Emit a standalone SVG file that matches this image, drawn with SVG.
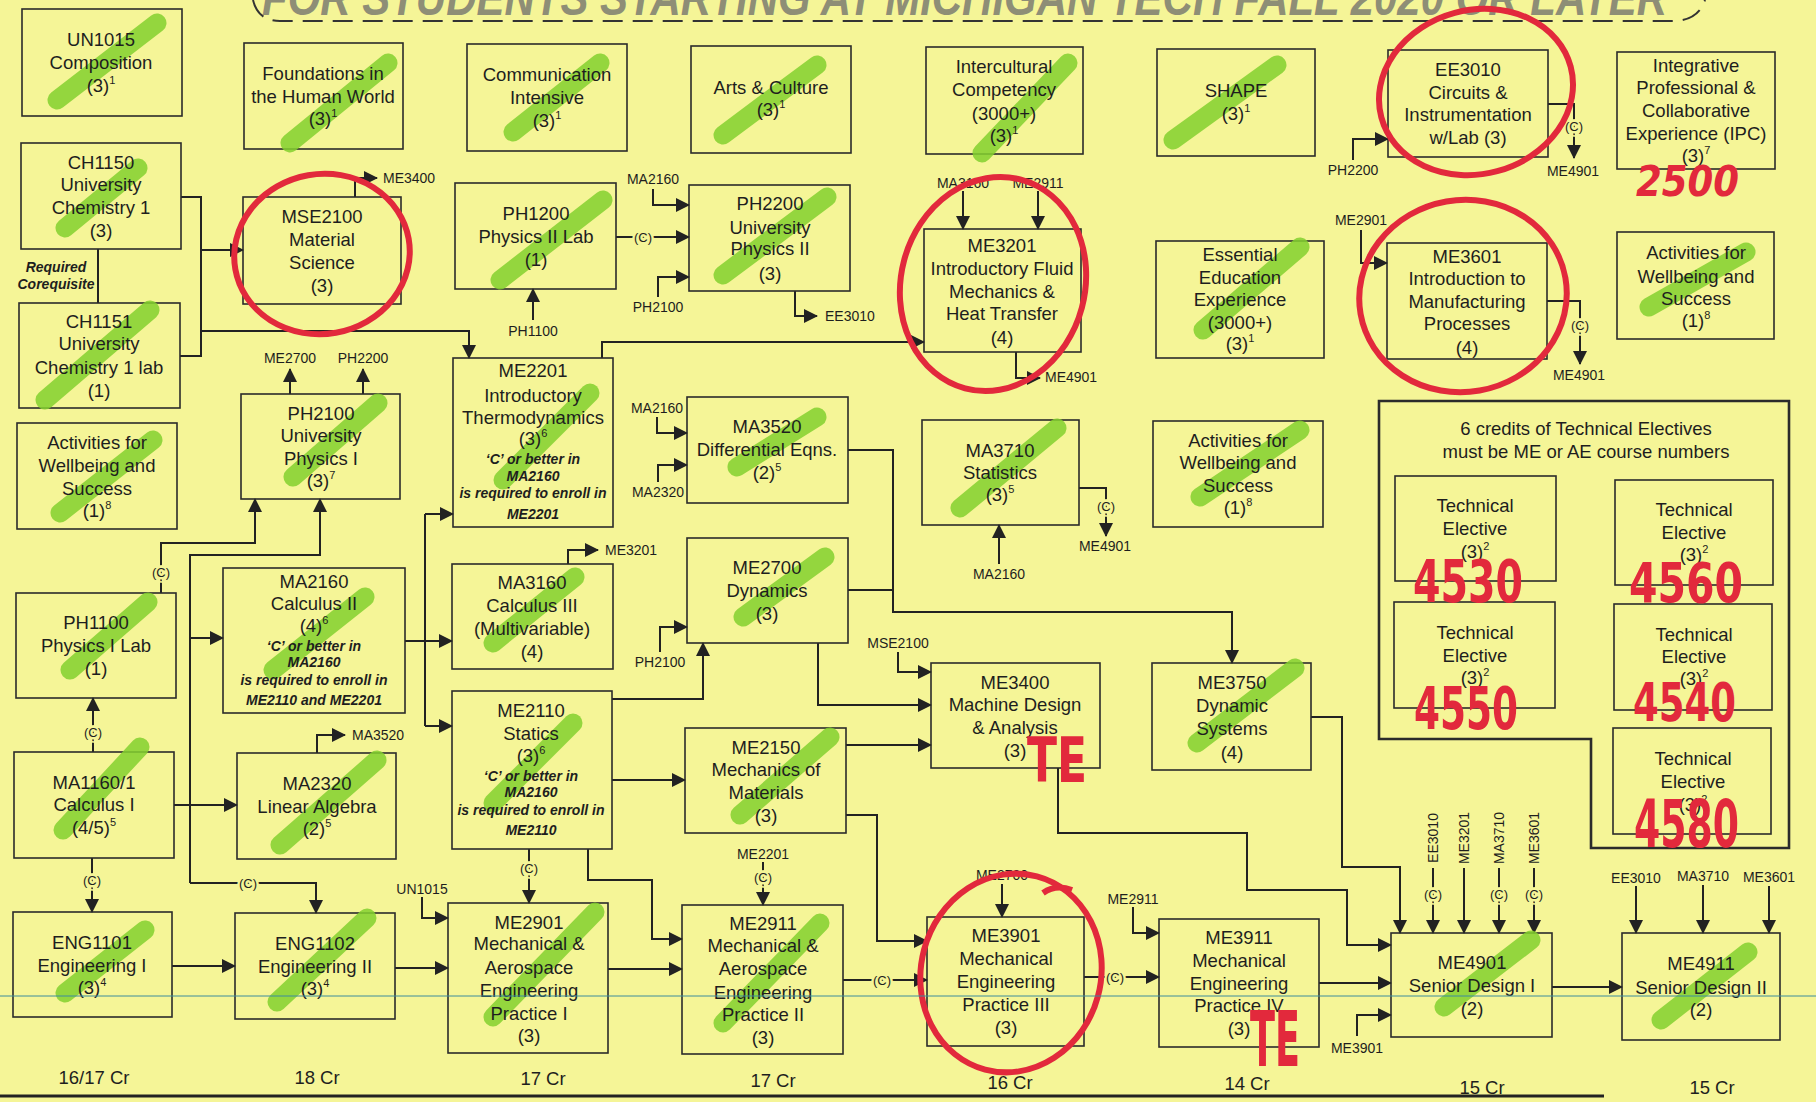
<svg xmlns="http://www.w3.org/2000/svg" width="1816" height="1102" viewBox="0 0 1816 1102">
<style>
.bx{fill:none;stroke:#2b2b2b;stroke-width:1.6}
.t{font-family:"Liberation Sans",Arial,sans-serif;font-size:18.5px;fill:#1e1e1e;text-anchor:middle}
.it{font-family:"Liberation Sans",Arial,sans-serif;font-size:14px;font-weight:bold;font-style:italic;fill:#1e1e1e;text-anchor:middle}
.s{font-family:"Liberation Sans",Arial,sans-serif;font-size:14px;fill:#1e1e1e;text-anchor:middle}
.c{font-family:"Liberation Sans",Arial,sans-serif;font-size:13px;fill:#1e1e1e;text-anchor:middle;stroke:#f5f597;stroke-width:5px;paint-order:stroke}
.ln{fill:none;stroke:#222;stroke-width:2}
.a{marker-end:url(#ah)}
.hl{stroke:#84d12f;stroke-width:19;stroke-linecap:round;opacity:.85}
.rc{fill:none;stroke:#e2293c;stroke-width:6}
.rt{fill:#e2293c;font-family:"DejaVu Sans Condensed","DejaVu Sans",sans-serif;font-weight:bold}
.cr{font-family:"Liberation Sans",Arial,sans-serif;font-size:18.5px;fill:#1e1e1e;text-anchor:middle}
</style>
<defs>
<marker id="ah" viewBox="0 0 14 14" refX="13" refY="7" markerWidth="14" markerHeight="14" markerUnits="userSpaceOnUse" orient="auto"><path d="M0,0 L14,7 L0,14 z" fill="#222"/></marker>
</defs>
<rect x="0" y="0" width="1816" height="1102" fill="#f5f597"/>

<g id="title">
<text x="262" y="15" font-family="Liberation Sans,Arial,sans-serif" font-size="50" font-weight="bold" font-style="italic" fill="#8e8e76" textLength="1405" lengthAdjust="spacingAndGlyphs">FOR STUDENTS STARTING AT MICHIGAN TECH FALL 2020 OR LATER</text>
<path d="M253,0 Q258,21 280,21 L1672,21 Q1698,21 1705,0" fill="none" stroke="#333" stroke-width="2" stroke-dasharray="20 10"/>
</g>

<g id="connectors">
<polyline class="ln" points="181,197 201,197 201,356 180,356"/>
<polyline class="ln a" points="201,250 243,250"/>
<polyline class="ln a" points="201,331 469,331 469,358"/>
<polyline class="ln" points="98,249 98,303"/>
<polyline class="ln a" points="355,197 355,178 377,178"/>
<polyline class="ln a" points="290,394 290,369"/>
<polyline class="ln a" points="363,394 363,369"/>
<polyline class="ln a" points="533,320 533,289"/>
<polyline class="ln a" points="653,189 653,205 689,205"/>
<polyline class="ln a" points="616,237 689,237"/>
<polyline class="ln a" points="658,297 658,277 689,277"/>
<polyline class="ln a" points="795,291 795,316 817,316"/>
<polyline class="ln a" points="602,358 602,342 924,342"/>
<polyline class="ln a" points="963,191 963,229"/>
<polyline class="ln a" points="1038,191 1038,229"/>
<polyline class="ln a" points="1016,352 1016,378 1040,378"/>
<polyline class="ln a" points="1353,160 1353,139 1388,139"/>
<polyline class="ln a" points="1548,104 1574,104 1574,158"/>
<polyline class="ln a" points="1361,230 1361,263 1387,263"/>
<polyline class="ln a" points="1547,301 1580,301 1580,364"/>
<polyline class="ln a" points="161,593 161,543 255,543 255,499"/>
<polyline class="ln a" points="190,883 190,555 320,555 320,499"/>
<polyline class="ln a" points="190,638 223,638"/>
<polyline class="ln a" points="190,883 316,883 316,913"/>
<polyline class="ln" points="405,641 425,641"/>
<polyline class="ln" points="425,514 425,726"/>
<polyline class="ln a" points="425,514 453,514"/>
<polyline class="ln a" points="425,641 452,641"/>
<polyline class="ln a" points="425,726 452,726"/>
<polyline class="ln a" points="568,564 568,550 598,550"/>
<polyline class="ln a" points="657,417 657,433 687,433"/>
<polyline class="ln a" points="658,482 658,465 687,465"/>
<polyline class="ln a" points="848,450 893,450 893,612 1232,612 1232,663"/>
<polyline class="ln" points="848,590 893,590"/>
<polyline class="ln a" points="660,652 660,627 687,627"/>
<polyline class="ln a" points="612,699 703,699 703,643"/>
<polyline class="ln a" points="818,643 818,705 931,705"/>
<polyline class="ln a" points="898,652 898,672 931,672"/>
<polyline class="ln a" points="846,745 931,745"/>
<polyline class="ln a" points="612,780 685,780"/>
<polyline class="ln a" points="846,815 877,815 877,941 927,941"/>
<polyline class="ln a" points="999,564 999,525"/>
<polyline class="ln a" points="1079,488 1106,488 1106,536"/>
<polyline class="ln a" points="174,805 237,805"/>
<polyline class="ln a" points="93,752 93,698"/>
<polyline class="ln a" points="92,858 92,912"/>
<polyline class="ln a" points="317,753 317,735 345,735"/>
<polyline class="ln a" points="172,966 235,966"/>
<polyline class="ln a" points="395,968 448,968"/>
<polyline class="ln a" points="422,897 422,918 448,918"/>
<polyline class="ln a" points="529,849 529,903"/>
<polyline class="ln a" points="588,849 588,880 652,880 652,939 682,939"/>
<polyline class="ln a" points="608,969 682,969"/>
<polyline class="ln a" points="763,862 763,905"/>
<polyline class="ln a" points="843,980 927,980"/>
<polyline class="ln a" points="1002,884 1002,917"/>
<polyline class="ln a" points="1084,977 1159,977"/>
<polyline class="ln a" points="1133,907 1133,933 1159,933"/>
<polyline class="ln a" points="1058,768 1058,833 1247,833 1247,890 1347,890 1347,945 1391,945"/>
<polyline class="ln a" points="1311,717 1342,717 1342,867 1400,867 1400,933"/>
<polyline class="ln a" points="1319,983 1391,983"/>
<polyline class="ln a" points="1357,1036 1357,1015 1391,1015"/>
<polyline class="ln a" points="1433,868 1433,933"/>
<polyline class="ln a" points="1464,868 1464,933"/>
<polyline class="ln a" points="1499,868 1499,933"/>
<polyline class="ln a" points="1534,868 1534,933"/>
<polyline class="ln a" points="1552,987 1622,987"/>
<polyline class="ln a" points="1636,886 1636,933"/>
<polyline class="ln a" points="1703,885 1703,933"/>
<polyline class="ln a" points="1769,886 1769,933"/>
<text class="c" x="643" y="242">(C)</text>
<text class="c" x="1574" y="131">(C)</text>
<text class="c" x="1580" y="330">(C)</text>
<text class="c" x="1106" y="511">(C)</text>
<text class="c" x="161" y="577">(C)</text>
<text class="c" x="93" y="737">(C)</text>
<text class="c" x="92" y="885">(C)</text>
<text class="c" x="248" y="888">(C)</text>
<text class="c" x="529" y="873">(C)</text>
<text class="c" x="763" y="882">(C)</text>
<text class="c" x="882" y="985">(C)</text>
<text class="c" x="1115" y="982">(C)</text>
<text class="c" x="1433" y="899">(C)</text>
<text class="c" x="1499" y="899">(C)</text>
<text class="c" x="1534" y="899">(C)</text>
</g>

<g id="labels">
<text class="s" x="383" y="183" text-anchor="start" style="text-anchor:start">ME3400</text>
<text class="s" x="290" y="363">ME2700</text>
<text class="s" x="363" y="363">PH2200</text>
<text class="s" x="653" y="184">MA2160</text>
<text class="s" x="658" y="312">PH2100</text>
<text class="s" x="825" y="321" style="text-anchor:start">EE3010</text>
<text class="s" x="533" y="336">PH1100</text>
<text class="s" x="963" y="188">MA3160</text>
<text class="s" x="1038" y="188">ME2911</text>
<text class="s" x="1045" y="382" style="text-anchor:start">ME4901</text>
<text class="s" x="1353" y="175">PH2200</text>
<text class="s" x="1573" y="176">ME4901</text>
<text class="s" x="1361" y="225">ME2901</text>
<text class="s" x="1579" y="380">ME4901</text>
<text class="s" x="657" y="413">MA2160</text>
<text class="s" x="658" y="497">MA2320</text>
<text class="s" x="605" y="555" style="text-anchor:start">ME3201</text>
<text class="s" x="660" y="667">PH2100</text>
<text class="s" x="898" y="648">MSE2100</text>
<text class="s" x="999" y="579">MA2160</text>
<text class="s" x="1105" y="551">ME4901</text>
<text class="s" x="352" y="740" style="text-anchor:start">MA3520</text>
<text class="s" x="422" y="894">UN1015</text>
<text class="s" x="763" y="859">ME2201</text>
<text class="s" x="1002" y="880">ME2700</text>
<text class="s" x="1133" y="904">ME2911</text>
<text class="s" x="1357" y="1053">ME3901</text>
<text class="s" x="1636" y="883">EE3010</text>
<text class="s" x="1703" y="881">MA3710</text>
<text class="s" x="1769" y="882">ME3601</text>
<text class="s" transform="translate(1438,838) rotate(-90)" x="0" y="0">EE3010</text>
<text class="s" transform="translate(1469,838) rotate(-90)" x="0" y="0">ME3201</text>
<text class="s" transform="translate(1504,838) rotate(-90)" x="0" y="0">MA3710</text>
<text class="s" transform="translate(1539,838) rotate(-90)" x="0" y="0">ME3601</text>
<text class="it" x="56" y="272">Required</text>
<text class="it" x="56" y="289">Corequisite</text>
<text class="cr" x="94" y="1084">16/17 Cr</text>
<text class="cr" x="317" y="1084">18 Cr</text>
<text class="cr" x="543" y="1085">17 Cr</text>
<text class="cr" x="773" y="1087">17 Cr</text>
<text class="cr" x="1010" y="1089">16 Cr</text>
<text class="cr" x="1247" y="1090">14 Cr</text>
<text class="cr" x="1482" y="1094">15 Cr</text>
<text class="cr" x="1712" y="1094">15 Cr</text>
</g>

<g id="un1015"><rect class="bx" x="22" y="9" width="160" height="107"/><line class="hl" x1="57" y1="100" x2="157" y2="23"/><text class="t"><tspan x="101" y="46">UN1015</tspan><tspan x="101" y="69">Composition</tspan><tspan x="101" y="92">(3)<tspan dy="-8" font-size="11">1</tspan></tspan></text></g>
<g id="foundations"><rect class="bx" x="244" y="43" width="159" height="106"/><line class="hl" x1="290" y1="143" x2="388" y2="63"/><text class="t"><tspan x="323" y="80">Foundations in</tspan><tspan x="323" y="103">the Human World</tspan><tspan x="323" y="125">(3)<tspan dy="-8" font-size="11">1</tspan></tspan></text></g>
<g id="communication"><rect class="bx" x="467" y="44" width="160" height="107"/><line class="hl" x1="513" y1="132" x2="600" y2="63"/><text class="t"><tspan x="547" y="81">Communication</tspan><tspan x="547" y="104">Intensive</tspan><tspan x="547" y="127">(3)<tspan dy="-8" font-size="11">1</tspan></tspan></text></g>
<g id="arts"><rect class="bx" x="691" y="46" width="160" height="107"/><line class="hl" x1="723" y1="135" x2="817" y2="65"/><text class="t"><tspan x="771" y="94">Arts &amp; Culture</tspan><tspan x="771" y="116">(3)<tspan dy="-8" font-size="11">1</tspan></tspan></text></g>
<g id="intercultural"><rect class="bx" x="926" y="47" width="157" height="107"/><line class="hl" x1="982" y1="153" x2="1068" y2="63"/><text class="t"><tspan x="1004" y="73">Intercultural</tspan><tspan x="1004" y="96">Competency</tspan><tspan x="1004" y="120">(3000+)</tspan><tspan x="1004" y="142">(3)<tspan dy="-8" font-size="11">1</tspan></tspan></text></g>
<g id="shape"><rect class="bx" x="1157" y="49" width="158" height="107"/><line class="hl" x1="1173" y1="140" x2="1277" y2="65"/><text class="t"><tspan x="1236" y="97">SHAPE</tspan><tspan x="1236" y="120">(3)<tspan dy="-8" font-size="11">1</tspan></tspan></text></g>
<g id="ee3010"><rect class="bx" x="1388" y="50" width="160" height="107"/><text class="t"><tspan x="1468" y="76">EE3010</tspan><tspan x="1468" y="99">Circuits &amp;</tspan><tspan x="1468" y="121">Instrumentation</tspan><tspan x="1468" y="144">w/Lab (3)</tspan></text></g>
<g id="ipc"><rect class="bx" x="1617" y="52" width="158" height="117"/><text class="t"><tspan x="1696" y="72">Integrative</tspan><tspan x="1696" y="94">Professional &amp;</tspan><tspan x="1696" y="117">Collaborative</tspan><tspan x="1696" y="140">Experience (IPC)</tspan><tspan x="1696" y="162">(3)<tspan dy="-8" font-size="11">7</tspan></tspan></text></g>
<g id="ch1150"><rect class="bx" x="21" y="143" width="160" height="106"/><line class="hl" x1="65" y1="228" x2="138" y2="168"/><text class="t"><tspan x="101" y="169">CH1150</tspan><tspan x="101" y="191">University</tspan><tspan x="101" y="214">Chemistry 1</tspan><tspan x="101" y="237">(3)</tspan></text></g>
<g id="mse2100"><rect class="bx" x="243" y="197" width="158" height="107"/><text class="t"><tspan x="322" y="223">MSE2100</tspan><tspan x="322" y="246">Material</tspan><tspan x="322" y="269">Science</tspan><tspan x="322" y="292">(3)</tspan></text></g>
<g id="ph1200"><rect class="bx" x="455" y="183" width="161" height="106"/><line class="hl" x1="500" y1="280" x2="603" y2="200"/><text class="t"><tspan x="536" y="220">PH1200</tspan><tspan x="536" y="243">Physics II Lab</tspan><tspan x="536" y="266">(1)</tspan></text></g>
<g id="ph2200"><rect class="bx" x="689" y="185" width="161" height="106"/><line class="hl" x1="723" y1="275" x2="827" y2="197"/><text class="t"><tspan x="770" y="210">PH2200</tspan><tspan x="770" y="234">University</tspan><tspan x="770" y="255">Physics II</tspan><tspan x="770" y="280">(3)</tspan></text></g>
<g id="me3201"><rect class="bx" x="924" y="229" width="157" height="123"/><text class="t"><tspan x="1002" y="252">ME3201</tspan><tspan x="1002" y="275">Introductory Fluid</tspan><tspan x="1002" y="298">Mechanics &amp;</tspan><tspan x="1002" y="320">Heat Transfer</tspan><tspan x="1002" y="344">(4)</tspan></text></g>
<g id="essential"><rect class="bx" x="1156" y="241" width="168" height="117"/><line class="hl" x1="1203" y1="330" x2="1300" y2="247"/><text class="t"><tspan x="1240" y="261">Essential</tspan><tspan x="1240" y="284">Education</tspan><tspan x="1240" y="306">Experience</tspan><tspan x="1240" y="329">(3000+)</tspan><tspan x="1240" y="350">(3)<tspan dy="-8" font-size="11">1</tspan></tspan></text></g>
<g id="me3601"><rect class="bx" x="1387" y="243" width="160" height="116"/><text class="t"><tspan x="1467" y="263">ME3601</tspan><tspan x="1467" y="285">Introduction to</tspan><tspan x="1467" y="308">Manufacturing</tspan><tspan x="1467" y="330">Processes</tspan><tspan x="1467" y="354">(4)</tspan></text></g>
<g id="aws-right"><rect class="bx" x="1617" y="232" width="157" height="107"/><line class="hl" x1="1649" y1="307" x2="1746" y2="252"/><text class="t"><tspan x="1696" y="259">Activities for</tspan><tspan x="1696" y="283">Wellbeing and</tspan><tspan x="1696" y="305">Success</tspan><tspan x="1696" y="327">(1)<tspan dy="-8" font-size="11">8</tspan></tspan></text></g>
<g id="ch1151"><rect class="bx" x="19" y="303" width="161" height="105"/><line class="hl" x1="45" y1="400" x2="150" y2="310"/><text class="t"><tspan x="99" y="328">CH1151</tspan><tspan x="99" y="350">University</tspan><tspan x="99" y="374">Chemistry 1 lab</tspan><tspan x="99" y="397">(1)</tspan></text></g>
<g id="me2201"><rect class="bx" x="453" y="358" width="160" height="169"/><line class="hl" x1="503" y1="480" x2="590" y2="393"/><text class="t"><tspan x="533" y="377">ME2201</tspan><tspan x="533" y="402">Introductory</tspan><tspan x="533" y="424">Thermodynamics</tspan><tspan x="533" y="445">(3)<tspan dy="-8" font-size="11">6</tspan></tspan></text><text class="it"><tspan x="533" y="464">‘C’ or better in</tspan><tspan x="533" y="481">MA2160</tspan><tspan x="533" y="498">is required to enroll in</tspan><tspan x="533" y="519">ME2201</tspan></text></g>
<g id="ph2100"><rect class="bx" x="241" y="394" width="159" height="105"/><line class="hl" x1="293" y1="477" x2="378" y2="403"/><text class="t"><tspan x="321" y="420">PH2100</tspan><tspan x="321" y="442">University</tspan><tspan x="321" y="465">Physics I</tspan><tspan x="321" y="487">(3)<tspan dy="-8" font-size="11">7</tspan></tspan></text></g>
<g id="ma3520"><rect class="bx" x="687" y="397" width="161" height="106"/><line class="hl" x1="737" y1="467" x2="817" y2="417"/><text class="t"><tspan x="767" y="433">MA3520</tspan><tspan x="767" y="456">Differential Eqns.</tspan><tspan x="767" y="479">(2)<tspan dy="-8" font-size="11">5</tspan></tspan></text></g>
<g id="ma3710"><rect class="bx" x="922" y="420" width="157" height="105"/><line class="hl" x1="960" y1="508" x2="1057" y2="428"/><text class="t"><tspan x="1000" y="457">MA3710</tspan><tspan x="1000" y="479">Statistics</tspan><tspan x="1000" y="501">(3)<tspan dy="-8" font-size="11">5</tspan></tspan></text></g>
<g id="aws-mid"><rect class="bx" x="1153" y="421" width="170" height="106"/><line class="hl" x1="1200" y1="497" x2="1300" y2="430"/><text class="t"><tspan x="1238" y="447">Activities for</tspan><tspan x="1238" y="469">Wellbeing and</tspan><tspan x="1238" y="492">Success</tspan><tspan x="1238" y="514">(1)<tspan dy="-8" font-size="11">8</tspan></tspan></text></g>
<g id="aws-left"><rect class="bx" x="17" y="423" width="160" height="106"/><line class="hl" x1="60" y1="513" x2="153" y2="440"/><text class="t"><tspan x="97" y="449">Activities for</tspan><tspan x="97" y="472">Wellbeing and</tspan><tspan x="97" y="495">Success</tspan><tspan x="97" y="517">(1)<tspan dy="-8" font-size="11">8</tspan></tspan></text></g>

<g id="te-group"><path d="M1379,401 L1789,401 L1789,848 L1591,848 L1591,739 L1379,739 Z" fill="none" stroke="#2b2b2b" stroke-width="2.6"/><text class="t"><tspan x="1586" y="435">6 credits of Technical Electives</tspan><tspan x="1586" y="458">must be ME or AE course numbers</tspan></text></g>
<g id="te1"><rect class="bx" x="1395" y="476" width="161" height="105"/><text class="t"><tspan x="1475" y="512">Technical</tspan><tspan x="1475" y="535">Elective</tspan><tspan x="1475" y="558">(3)<tspan dy="-8" font-size="11">2</tspan></tspan></text></g>
<g id="te2"><rect class="bx" x="1615" y="480" width="158" height="105"/><text class="t"><tspan x="1694" y="516">Technical</tspan><tspan x="1694" y="539">Elective</tspan><tspan x="1694" y="561">(3)<tspan dy="-8" font-size="11">2</tspan></tspan></text></g>
<g id="te3"><rect class="bx" x="1394" y="602" width="161" height="106"/><text class="t"><tspan x="1475" y="639">Technical</tspan><tspan x="1475" y="662">Elective</tspan><tspan x="1475" y="684">(3)<tspan dy="-8" font-size="11">2</tspan></tspan></text></g>
<g id="te4"><rect class="bx" x="1614" y="604" width="158" height="106"/><text class="t"><tspan x="1694" y="641">Technical</tspan><tspan x="1694" y="663">Elective</tspan><tspan x="1694" y="685">(3)<tspan dy="-8" font-size="11">2</tspan></tspan></text></g>
<g id="te5"><rect class="bx" x="1613" y="728" width="158" height="106"/><text class="t"><tspan x="1693" y="765">Technical</tspan><tspan x="1693" y="788">Elective</tspan><tspan x="1693" y="811">(3)<tspan dy="-8" font-size="11">2</tspan></tspan></text></g>

<g id="me2700"><rect class="bx" x="687" y="538" width="161" height="105"/><line class="hl" x1="743" y1="617" x2="825" y2="557"/><text class="t"><tspan x="767" y="574">ME2700</tspan><tspan x="767" y="597">Dynamics</tspan><tspan x="767" y="620">(3)</tspan></text></g>
<g id="ma3160"><rect class="bx" x="452" y="564" width="161" height="105"/><line class="hl" x1="493" y1="643" x2="575" y2="577"/><text class="t"><tspan x="532" y="589">MA3160</tspan><tspan x="532" y="612">Calculus III</tspan><tspan x="532" y="635">(Multivariable)</tspan><tspan x="532" y="658">(4)</tspan></text></g>
<g id="ma2160"><rect class="bx" x="223" y="568" width="182" height="145"/><line class="hl" x1="273" y1="670" x2="365" y2="597"/><text class="t"><tspan x="314" y="588">MA2160</tspan><tspan x="314" y="610">Calculus II</tspan><tspan x="314" y="632">(4)<tspan dy="-8" font-size="11">6</tspan></tspan></text><text class="it"><tspan x="314" y="651">‘C’ or better in</tspan><tspan x="314" y="667">MA2160</tspan><tspan x="314" y="685">is required to enroll in</tspan><tspan x="314" y="705">ME2110 and ME2201</tspan></text></g>
<g id="ph1100"><rect class="bx" x="16" y="593" width="160" height="105"/><line class="hl" x1="70" y1="670" x2="148" y2="602"/><text class="t"><tspan x="96" y="629">PH1100</tspan><tspan x="96" y="652">Physics I Lab</tspan><tspan x="96" y="675">(1)</tspan></text></g>
<g id="me3400"><rect class="bx" x="931" y="663" width="169" height="105"/><text class="t"><tspan x="1015" y="689">ME3400</tspan><tspan x="1015" y="711">Machine Design</tspan><tspan x="1015" y="734">&amp; Analysis</tspan><tspan x="1015" y="757">(3)</tspan></text></g>
<g id="me3750"><rect class="bx" x="1152" y="663" width="159" height="107"/><line class="hl" x1="1197" y1="743" x2="1295" y2="668"/><text class="t"><tspan x="1232" y="689">ME3750</tspan><tspan x="1232" y="712">Dynamic</tspan><tspan x="1232" y="735">Systems</tspan><tspan x="1232" y="759">(4)</tspan></text></g>
<g id="me2110"><rect class="bx" x="452" y="691" width="160" height="158"/><line class="hl" x1="493" y1="803" x2="573" y2="723"/><text class="t"><tspan x="531" y="717">ME2110</tspan><tspan x="531" y="740">Statics</tspan><tspan x="531" y="762">(3)<tspan dy="-8" font-size="11">6</tspan></tspan></text><text class="it"><tspan x="531" y="781">‘C’ or better in</tspan><tspan x="531" y="797">MA2160</tspan><tspan x="531" y="815">is required to enroll in</tspan><tspan x="531" y="835">ME2110</tspan></text></g>
<g id="me2150"><rect class="bx" x="685" y="728" width="161" height="105"/><line class="hl" x1="740" y1="815" x2="830" y2="737"/><text class="t"><tspan x="766" y="754">ME2150</tspan><tspan x="766" y="776">Mechanics of</tspan><tspan x="766" y="799">Materials</tspan><tspan x="766" y="822">(3)</tspan></text></g>
<g id="ma1160"><rect class="bx" x="14" y="752" width="160" height="106"/><line class="hl" x1="63" y1="830" x2="140" y2="747"/><text class="t"><tspan x="94" y="789">MA1160/1</tspan><tspan x="94" y="811">Calculus I</tspan><tspan x="94" y="834">(4/5)<tspan dy="-8" font-size="11">5</tspan></tspan></text></g>
<g id="ma2320"><rect class="bx" x="237" y="753" width="159" height="106"/><line class="hl" x1="280" y1="845" x2="377" y2="760"/><text class="t"><tspan x="317" y="790">MA2320</tspan><tspan x="317" y="813">Linear Algebra</tspan><tspan x="317" y="835">(2)<tspan dy="-8" font-size="11">5</tspan></tspan></text></g>
<g id="me2901"><rect class="bx" x="448" y="903" width="160" height="150"/><line class="hl" x1="493" y1="1017" x2="595" y2="912"/><text class="t"><tspan x="529" y="929">ME2901</tspan><tspan x="529" y="950">Mechanical &amp;</tspan><tspan x="529" y="974">Aerospace</tspan><tspan x="529" y="997">Engineering</tspan><tspan x="529" y="1020">Practice I</tspan><tspan x="529" y="1042">(3)</tspan></text></g>
<g id="me2911"><rect class="bx" x="682" y="905" width="161" height="149"/><line class="hl" x1="723" y1="1023" x2="820" y2="923"/><text class="t"><tspan x="763" y="930">ME2911</tspan><tspan x="763" y="952">Mechanical &amp;</tspan><tspan x="763" y="975">Aerospace</tspan><tspan x="763" y="999">Engineering</tspan><tspan x="763" y="1021">Practice II</tspan><tspan x="763" y="1044">(3)</tspan></text></g>
<g id="eng1101"><rect class="bx" x="13" y="912" width="159" height="105"/><line class="hl" x1="65" y1="993" x2="145" y2="930"/><text class="t"><tspan x="92" y="949">ENG1101</tspan><tspan x="92" y="972">Engineering I</tspan><tspan x="92" y="994">(3)<tspan dy="-8" font-size="11">4</tspan></tspan></text></g>
<g id="eng1102"><rect class="bx" x="235" y="913" width="160" height="106"/><line class="hl" x1="277" y1="1002" x2="367" y2="918"/><text class="t"><tspan x="315" y="950">ENG1102</tspan><tspan x="315" y="973">Engineering II</tspan><tspan x="315" y="995">(3)<tspan dy="-8" font-size="11">4</tspan></tspan></text></g>
<g id="me3901"><rect class="bx" x="927" y="917" width="157" height="129"/><text class="t"><tspan x="1006" y="942">ME3901</tspan><tspan x="1006" y="965">Mechanical</tspan><tspan x="1006" y="988">Engineering</tspan><tspan x="1006" y="1011">Practice III</tspan><tspan x="1006" y="1034">(3)</tspan></text></g>
<g id="me3911"><rect class="bx" x="1159" y="919" width="160" height="128"/><text class="t"><tspan x="1239" y="944">ME3911</tspan><tspan x="1239" y="967">Mechanical</tspan><tspan x="1239" y="990">Engineering</tspan><tspan x="1239" y="1012">Practice IV</tspan><tspan x="1239" y="1035">(3)</tspan></text></g>
<g id="me4901"><rect class="bx" x="1391" y="933" width="161" height="104"/><line class="hl" x1="1444" y1="1007" x2="1531" y2="940"/><text class="t"><tspan x="1472" y="969">ME4901</tspan><tspan x="1472" y="992">Senior Design I</tspan><tspan x="1472" y="1015">(2)</tspan></text></g>
<g id="me4911"><rect class="bx" x="1622" y="933" width="158" height="107"/><line class="hl" x1="1661" y1="1020" x2="1748" y2="952"/><text class="t"><tspan x="1701" y="970">ME4911</tspan><tspan x="1701" y="994">Senior Design II</tspan><tspan x="1701" y="1016">(2)</tspan></text></g>

<g id="annotations">
<ellipse class="rc" cx="322" cy="254" rx="88" ry="80" transform="rotate(-10 322 254)"/>
<ellipse class="rc" cx="993" cy="284" rx="92" ry="108" transform="rotate(15 993 284)"/>
<ellipse class="rc" cx="1476" cy="92" rx="98" ry="82" transform="rotate(-15 1476 92)"/>
<ellipse class="rc" cx="1463" cy="296" rx="104" ry="96" transform="rotate(-10 1463 296)"/>
<ellipse class="rc" cx="1011" cy="973" rx="90" ry="100" transform="rotate(15 1011 973)"/>
<path class="rc" d="M1043,893 Q1056,884 1072,890"/>
<text class="rt" x="1636" y="196" font-size="42" font-style="italic" textLength="103" lengthAdjust="spacingAndGlyphs">2500</text>
<text class="rt" x="1413" y="602" font-size="58" textLength="110" lengthAdjust="spacingAndGlyphs">4530</text>
<text class="rt" x="1629" y="602" font-size="55" textLength="114" lengthAdjust="spacingAndGlyphs">4560</text>
<text class="rt" x="1414" y="729" font-size="58" textLength="104" lengthAdjust="spacingAndGlyphs">4550</text>
<text class="rt" x="1633" y="721" font-size="54" textLength="103" lengthAdjust="spacingAndGlyphs">4540</text>
<text class="rt" x="1634" y="847" font-size="66" textLength="105" lengthAdjust="spacingAndGlyphs">4580</text>
<text class="rt" x="1027" y="782" font-size="62" textLength="60" lengthAdjust="spacingAndGlyphs">TE</text>
<text class="rt" x="1250" y="1066" font-size="76" textLength="50" lengthAdjust="spacingAndGlyphs">TE</text>
</g>

<g id="page-lines">
<line x1="0" y1="996" x2="1816" y2="996" stroke="#3c8c9c" stroke-width="1"/>
<line x1="0" y1="1096" x2="1604" y2="1096" stroke="#222" stroke-width="3"/>
</g>
</svg>
